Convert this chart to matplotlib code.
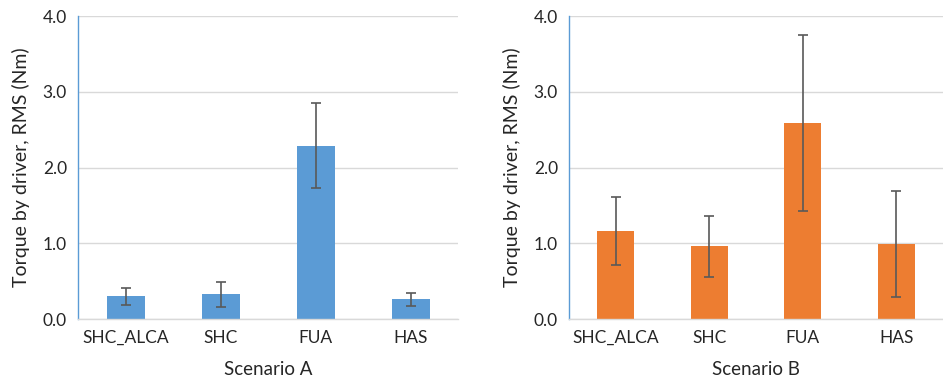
import numpy as np
import matplotlib.pyplot as plt

plt.rcParams['font.family'] = ['Lato', 'DejaVu Sans']

categories = ['SHC_ALCA', 'SHC', 'FUA', 'HAS']

# Scenario A
values_a = [0.30, 0.33, 2.29, 0.26]
err_a = [0.11, 0.165, 0.56, 0.085]

# Scenario B
values_b = [1.16, 0.96, 2.59, 0.99]
err_b = [0.445, 0.405, 1.165, 0.695]

fig = plt.figure(figsize=(9.43, 3.83), dpi=100)
W, H = 943, 383
ax1 = fig.add_axes([78 / W, 1 - 319 / H, 380 / W, 303 / H])
ax2 = fig.add_axes([569 / W, 1 - 319 / H, 374 / W, 303 / H])

panels = [
    (ax1, values_a, err_a, '#5B9BD5', 'Scenario A'),
    (ax2, values_b, err_b, '#ED7D31', 'Scenario B'),
]

for ax, vals, errs, color, xlabel in panels:
    x = np.arange(len(categories))
    ax.bar(x, vals, width=0.4, color=color, zorder=2)
    ax.errorbar(x, vals, yerr=errs, fmt='none', ecolor='#595959',
                elinewidth=1.2, capsize=3.5, capthick=1.2, zorder=3)
    ax.set_xlim(-0.5, len(categories) - 0.5)
    ax.set_ylim(0, 4.0)
    ax.set_yticks([0, 1, 2, 3, 4])
    ax.set_yticklabels([f'{v:.1f}' for v in [0, 1, 2, 3, 4]])
    ax.set_xticks(x)
    ax.set_xticklabels(categories)
    ax.yaxis.grid(True, color='#D9D9D9', linewidth=1, zorder=0)
    ax.set_axisbelow(True)
    ax.tick_params(axis='both', length=0, labelsize=12.5, colors='#262626', pad=8)
    for s in ['top', 'right']:
        ax.spines[s].set_visible(False)
    ax.spines['left'].set_color('#5B9BD5')
    ax.spines['bottom'].set_color('#D9D9D9')
    ax.spines['left'].set_linewidth(1)
    ax.spines['bottom'].set_linewidth(1)
    ax.set_xlabel(xlabel, fontsize=13.5, color='#262626', labelpad=11)
    ax.set_ylabel('Torque by driver, RMS (Nm)', fontsize=14, color='#262626', labelpad=9)

fig.savefig('out.png', dpi=100)
